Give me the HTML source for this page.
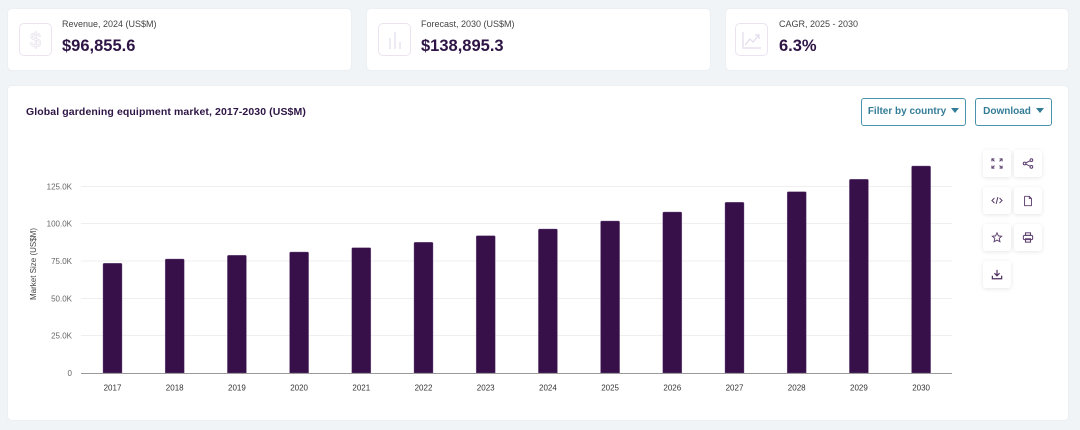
<!DOCTYPE html>
<html>
<head>
<meta charset="utf-8">
<style>
  html,body{margin:0;padding:0;}
  body{width:1080px;height:430px;background:#f0f4f7;position:relative;overflow:hidden;font-family:"Liberation Sans",Arial,sans-serif;}
  .card{position:absolute;background:#fff;border-radius:4px;box-shadow:0 0 2px rgba(0,0,0,0.06);}
  .ibox{position:absolute;width:33px;height:33px;border:1px solid #ebe4f0;border-radius:5px;box-sizing:border-box;}
  .lbl{position:absolute;font-size:9px;color:#444;white-space:nowrap;}
  .val{position:absolute;font-size:16.5px;font-weight:bold;color:#2e1545;white-space:nowrap;}
  .btn{position:absolute;border:1px solid #4a93ae;border-radius:3px;box-sizing:border-box;color:#337c98;font-size:10px;font-weight:bold;text-align:center;line-height:26px;white-space:nowrap;}
  .caret{display:inline-block;width:0;height:0;border-left:4px solid transparent;border-right:4px solid transparent;border-top:5px solid #337c98;vertical-align:middle;margin-left:5px;margin-top:-2px;}
  .sb{position:absolute;width:28px;height:27px;background:#fff;border-radius:3px;box-shadow:0 1px 4px rgba(0,0,0,0.10);}
  .sb svg{position:absolute;left:8px;top:8px;}
</style>
</head>
<body>
  <!-- top cards -->
  <div class="card" style="left:8px;top:9px;width:343px;height:61px;"></div>
  <div class="card" style="left:367px;top:9px;width:343px;height:61px;"></div>
  <div class="card" style="left:726px;top:9px;width:342px;height:61px;"></div>

  <div class="ibox" style="left:19px;top:23px;">
    <svg width="31" height="31" viewBox="0 0 31 31"><text x="15.5" y="23" text-anchor="middle" font-family="Liberation Sans, sans-serif" font-size="20" fill="none" stroke="#e2dae9" stroke-width="0.6">$</text></svg>
  </div>
  <div class="lbl" style="left:62px;top:19px;">Revenue, 2024 (US$M)</div>
  <div class="val" style="left:62px;top:37px;">$96,855.6</div>

  <div class="ibox" style="left:378px;top:23px;">
    <svg width="31" height="31" viewBox="0 0 31 31" fill="none" stroke="#e3dbec" stroke-width="1.2"><line x1="11" y1="25" x2="11" y2="14"/><line x1="16" y1="25" x2="16" y2="8"/><line x1="21" y1="25" x2="21" y2="18"/></svg>
  </div>
  <div class="lbl" style="left:421px;top:19px;">Forecast, 2030 (US$M)</div>
  <div class="val" style="left:421px;top:37px;">$138,895.3</div>

  <div class="ibox" style="left:735px;top:23px;">
    <svg width="31" height="31" viewBox="0 0 31 31" fill="none" stroke="#e3dbec" stroke-width="1.2"><polyline points="7,8 7,24 25,24"/><polyline points="9,21 14,15 17,18 23,11"/><polyline points="19,11 23,11 23,15"/></svg>
  </div>
  <div class="lbl" style="left:779px;top:19px;">CAGR, 2025 - 2030</div>
  <div class="val" style="left:779px;top:37px;">6.3%</div>

  <!-- main card -->
  <div class="card" style="left:8px;top:86px;width:1060px;height:334px;"></div>
  <div style="position:absolute;left:26px;top:106px;font-size:10.5px;font-weight:bold;color:#2e1545;white-space:nowrap;letter-spacing:0.1px;">Global gardening equipment market, 2017-2030 (US$M)</div>

  <div class="btn" style="left:861px;top:98px;width:105px;height:28px;">Filter by country<span class="caret"></span></div>
  <div class="btn" style="left:975px;top:98px;width:77px;height:28px;">Download<span class="caret"></span></div>

  <!-- side buttons -->
  <div class="sb" style="left:983px;top:150px;">
    <svg width="12" height="11" viewBox="0 0 14 13" fill="none" stroke="#5a3d6c" stroke-width="1.2"><polyline points="1,4 1,1 4,1"/><line x1="1" y1="1" x2="4" y2="4"/><polyline points="10,1 13,1 13,4"/><line x1="13" y1="1" x2="10" y2="4"/><polyline points="1,9 1,12 4,12"/><line x1="1" y1="12" x2="4" y2="9"/><polyline points="10,12 13,12 13,9"/><line x1="13" y1="12" x2="10" y2="9"/></svg>
  </div>
  <div class="sb" style="left:1014px;top:150px;">
    <svg width="12" height="11" viewBox="0 0 14 13" fill="none" stroke="#5a3d6c" stroke-width="1.2"><circle cx="11" cy="2.5" r="1.6"/><circle cx="3" cy="6.5" r="1.6"/><circle cx="11" cy="10.5" r="1.6"/><line x1="4.5" y1="5.7" x2="9.5" y2="3.3"/><line x1="4.5" y1="7.3" x2="9.5" y2="9.7"/></svg>
  </div>
  <div class="sb" style="left:983px;top:187px;">
    <svg width="12" height="11" viewBox="0 0 14 13" fill="none" stroke="#5a3d6c" stroke-width="1.2"><polyline points="4,3.5 1,6.5 4,9.5"/><polyline points="10,3.5 13,6.5 10,9.5"/><line x1="8" y1="2.5" x2="6" y2="10.5"/></svg>
  </div>
  <div class="sb" style="left:1014px;top:187px;">
    <svg width="12" height="12" viewBox="0 0 14 13" fill="none" stroke="#5a3d6c" stroke-width="1.1"><polyline points="3,1 8.5,1 11,3.5 11,12 3,12 3,1"/><polyline points="8.5,1 8.5,3.5 11,3.5"/></svg>
  </div>
  <div class="sb" style="left:983px;top:224px;">
    <svg width="12" height="11" viewBox="0 0 14 13" fill="none" stroke="#5a3d6c" stroke-width="1.1"><polygon points="7,1 8.7,4.6 12.5,5 9.6,7.6 10.5,11.5 7,9.5 3.5,11.5 4.4,7.6 1.5,5 5.3,4.6"/></svg>
  </div>
  <div class="sb" style="left:1014px;top:224px;">
    <svg width="12" height="11" viewBox="0 0 14 13" fill="none" stroke="#5a3d6c" stroke-width="1.2"><rect x="4" y="1" width="6" height="3"/><rect x="1.5" y="4" width="11" height="5" rx="1.5"/><rect x="4" y="8" width="6" height="4"/></svg>
  </div>
  <div class="sb" style="left:983px;top:261px;">
    <svg width="12" height="11" viewBox="0 0 14 13" fill="none" stroke="#4a2d5c" stroke-width="1.4"><line x1="7" y1="1" x2="7" y2="8"/><polyline points="4,5 7,8 10,5"/><polyline points="1.5,8 1.5,11.5 12.5,11.5 12.5,8"/></svg>
  </div>

  <!-- chart -->
  <svg style="position:absolute;left:0;top:0;" width="1080" height="430" viewBox="0 0 1080 430">
    <g stroke="#efefef" stroke-width="1">
      <line x1="81" y1="186.5" x2="952" y2="186.5"/>
      <line x1="81" y1="223.5" x2="952" y2="223.5"/>
      <line x1="81" y1="261" x2="952" y2="261"/>
      <line x1="81" y1="298.5" x2="952" y2="298.5"/>
      <line x1="81" y1="335.5" x2="952" y2="335.5"/>
    </g>
    <g font-family="Liberation Sans, Arial, sans-serif" font-size="8" fill="#666" text-anchor="end">
      <text x="72" y="189.5">125.0K</text>
      <text x="72" y="226.5">100.0K</text>
      <text x="72" y="264">75.0K</text>
      <text x="72" y="301.5">50.0K</text>
      <text x="72" y="338.5">25.0K</text>
      <text x="72" y="376">0</text>
    </g>
    <text transform="translate(36,264) rotate(-90)" text-anchor="middle" font-family="Liberation Sans, Arial, sans-serif" font-size="8" fill="#444">Market Size (US$M)</text>
    <g fill="#37104a" stroke="#7a5a88" stroke-width="0.4">
      <path d="M103,373 V264.3 Q103,263.3 104,263.3 H121 Q122,263.3 122,264.3 V373 Z"/>
      <path d="M165.2,373 V260 Q165.2,259 166.2,259 H183.2 Q184.2,259 184.2,260 V373 Z"/>
      <path d="M227.4,373 V256.3 Q227.4,255.3 228.4,255.3 H245.4 Q246.4,255.3 246.4,256.3 V373 Z"/>
      <path d="M289.6,373 V253 Q289.6,252 290.6,252 H307.6 Q308.6,252 308.6,253 V373 Z"/>
      <path d="M351.8,373 V248.7 Q351.8,247.7 352.8,247.7 H369.8 Q370.8,247.7 370.8,248.7 V373 Z"/>
      <path d="M414,373 V243.3 Q414,242.3 415,242.3 H432 Q433,242.3 433,243.3 V373 Z"/>
      <path d="M476.2,373 V236.7 Q476.2,235.7 477.2,235.7 H494.2 Q495.2,235.7 495.2,236.7 V373 Z"/>
      <path d="M538.4,373 V230 Q538.4,229 539.4,229 H556.4 Q557.4,229 557.4,230 V373 Z"/>
      <path d="M600.6,373 V222 Q600.6,221 601.6,221 H618.6 Q619.6,221 619.6,222 V373 Z"/>
      <path d="M662.8,373 V213 Q662.8,212 663.8,212 H680.8 Q681.8,212 681.8,213 V373 Z"/>
      <path d="M725,373 V203.3 Q725,202.3 726,202.3 H743 Q744,202.3 744,203.3 V373 Z"/>
      <path d="M787.2,373 V192.7 Q787.2,191.7 788.2,191.7 H805.2 Q806.2,191.7 806.2,192.7 V373 Z"/>
      <path d="M849.4,373 V180.3 Q849.4,179.3 850.4,179.3 H867.4 Q868.4,179.3 868.4,180.3 V373 Z"/>
      <path d="M911.6,373 V167 Q911.6,166 912.6,166 H929.6 Q930.6,166 930.6,167 V373 Z"/>
    </g>
    <line x1="81" y1="373.5" x2="952" y2="373.5" stroke="#9a9a9a" stroke-width="1"/>
    <g font-family="Liberation Sans, Arial, sans-serif" font-size="8" fill="#333" text-anchor="middle">
      <text x="112.5" y="390.5">2017</text>
      <text x="174.7" y="390.5">2018</text>
      <text x="236.9" y="390.5">2019</text>
      <text x="299.1" y="390.5">2020</text>
      <text x="361.3" y="390.5">2021</text>
      <text x="423.5" y="390.5">2022</text>
      <text x="485.7" y="390.5">2023</text>
      <text x="547.9" y="390.5">2024</text>
      <text x="610.1" y="390.5">2025</text>
      <text x="672.3" y="390.5">2026</text>
      <text x="734.5" y="390.5">2027</text>
      <text x="796.7" y="390.5">2028</text>
      <text x="858.9" y="390.5">2029</text>
      <text x="921.1" y="390.5">2030</text>
    </g>
  </svg>
</body>
</html>
